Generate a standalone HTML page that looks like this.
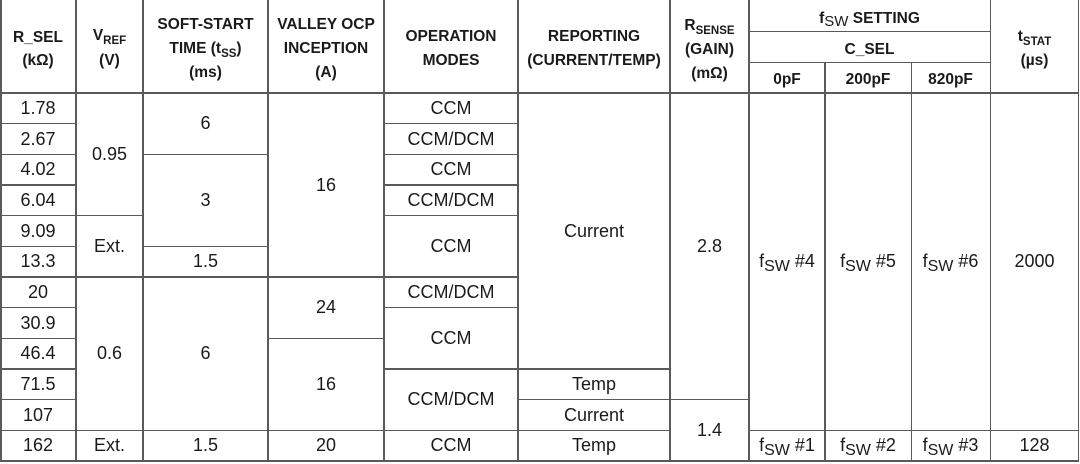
<!DOCTYPE html>
<html>
<head>
<meta charset="utf-8">
<style>
html,body{margin:0;padding:0;background:#fff;}
body{width:1080px;height:464px;position:relative;overflow:hidden;font-family:"Liberation Sans",Arial,sans-serif;color:#1a1a1a;}
.l{position:absolute;background:#5a5a5a;}
.t{position:absolute;display:flex;align-items:center;justify-content:center;text-align:center;font-size:18px;white-space:nowrap;}
.h{position:absolute;text-align:center;font-weight:bold;font-size:15.5px;white-space:nowrap;height:24px;line-height:24px;}
.sb{font-size:11.5px;position:relative;top:4px;}
.sw{font-size:16px;position:relative;top:4px;}
.swh{font-size:15px;font-weight:normal;position:relative;top:3px;}
</style>
</head>
<body>
<!-- vertical lines -->
<div class="l" style="left:0;top:0;width:1.6px;height:462px"></div>
<div class="l" style="left:75.2px;top:0;width:1.6px;height:462px"></div>
<div class="l" style="left:142.2px;top:0;width:1.6px;height:462px"></div>
<div class="l" style="left:267.2px;top:0;width:1.6px;height:462px"></div>
<div class="l" style="left:383.2px;top:0;width:1.6px;height:462px"></div>
<div class="l" style="left:517.2px;top:0;width:1.6px;height:462px"></div>
<div class="l" style="left:669.4px;top:0;width:1.6px;height:462px"></div>
<div class="l" style="left:748.2px;top:0;width:1.6px;height:462px"></div>
<div class="l" style="left:824.2px;top:62px;width:1.6px;height:400px"></div>
<div class="l" style="left:910.6px;top:62px;width:1.6px;height:400px"></div>
<div class="l" style="left:989.8px;top:0;width:1.6px;height:462px"></div>
<div class="l" style="left:1077.8px;top:0;width:1.6px;height:462px"></div>

<!-- horizontal lines -->
<div class="l" style="left:0;top:92.2px;width:1079px;height:1.6px"></div>
<div class="l" style="left:749px;top:30.9px;width:241px;height:1.6px"></div>
<div class="l" style="left:749px;top:61.9px;width:241px;height:1.6px"></div>
<div class="l" style="left:0;top:460.2px;width:1079px;height:1.6px"></div>

<!-- col0 -->
<div class="l" style="left:0;top:122.9px;width:76px;height:1.6px"></div>
<div class="l" style="left:0;top:153.5px;width:76px;height:1.6px"></div>
<div class="l" style="left:0;top:184.2px;width:76px;height:1.6px"></div>
<div class="l" style="left:0;top:214.9px;width:76px;height:1.6px"></div>
<div class="l" style="left:0;top:245.5px;width:76px;height:1.6px"></div>
<div class="l" style="left:0;top:276.2px;width:76px;height:1.6px"></div>
<div class="l" style="left:0;top:306.9px;width:76px;height:1.6px"></div>
<div class="l" style="left:0;top:337.5px;width:76px;height:1.6px"></div>
<div class="l" style="left:0;top:368.2px;width:76px;height:1.6px"></div>
<div class="l" style="left:0;top:398.9px;width:76px;height:1.6px"></div>
<div class="l" style="left:0;top:429.5px;width:76px;height:1.6px"></div>
<!-- col1 -->
<div class="l" style="left:76px;top:214.9px;width:67px;height:1.6px"></div>
<div class="l" style="left:76px;top:276.2px;width:67px;height:1.6px"></div>
<div class="l" style="left:76px;top:429.5px;width:67px;height:1.6px"></div>
<!-- col2 -->
<div class="l" style="left:143px;top:153.5px;width:125px;height:1.6px"></div>
<div class="l" style="left:143px;top:245.5px;width:125px;height:1.6px"></div>
<div class="l" style="left:143px;top:276.2px;width:125px;height:1.6px"></div>
<div class="l" style="left:143px;top:429.5px;width:125px;height:1.6px"></div>
<!-- col3 -->
<div class="l" style="left:268px;top:276.2px;width:116px;height:1.6px"></div>
<div class="l" style="left:268px;top:337.5px;width:116px;height:1.6px"></div>
<div class="l" style="left:268px;top:429.5px;width:116px;height:1.6px"></div>
<!-- col4 -->
<div class="l" style="left:384px;top:122.9px;width:134px;height:1.6px"></div>
<div class="l" style="left:384px;top:153.5px;width:134px;height:1.6px"></div>
<div class="l" style="left:384px;top:184.2px;width:134px;height:1.6px"></div>
<div class="l" style="left:384px;top:214.9px;width:134px;height:1.6px"></div>
<div class="l" style="left:384px;top:276.2px;width:134px;height:1.6px"></div>
<div class="l" style="left:384px;top:306.9px;width:134px;height:1.6px"></div>
<div class="l" style="left:384px;top:368.2px;width:134px;height:1.6px"></div>
<div class="l" style="left:384px;top:429.5px;width:134px;height:1.6px"></div>
<!-- col5 -->
<div class="l" style="left:518px;top:368.2px;width:152px;height:1.6px"></div>
<div class="l" style="left:518px;top:398.9px;width:152px;height:1.6px"></div>
<div class="l" style="left:518px;top:429.5px;width:152px;height:1.6px"></div>
<!-- col6 -->
<div class="l" style="left:670px;top:398.9px;width:79px;height:1.6px"></div>
<!-- col7-10 -->
<div class="l" style="left:749px;top:429.5px;width:330px;height:1.6px"></div>

<!-- header text -->
<div class="h" style="left:0;width:76px;top:25.5px">R_SEL</div>
<div class="h" style="left:0;width:76px;top:48.5px">(kΩ)</div>

<div class="h" style="left:76px;width:67px;top:23.5px">V<span class="sb">REF</span></div>
<div class="h" style="left:76px;width:67px;top:48.5px">(V)</div>

<div class="h" style="left:143px;width:125px;top:13px">SOFT-START</div>
<div class="h" style="left:143px;width:125px;top:37px">TIME (t<span class="sb">SS</span>)</div>
<div class="h" style="left:143px;width:125px;top:61px">(ms)</div>

<div class="h" style="left:268px;width:116px;top:13px">VALLEY OCP</div>
<div class="h" style="left:268px;width:116px;top:37px">INCEPTION</div>
<div class="h" style="left:268px;width:116px;top:61px">(A)</div>

<div class="h" style="left:384px;width:134px;top:25px">OPERATION</div>
<div class="h" style="left:384px;width:134px;top:49px">MODES</div>

<div class="h" style="left:518px;width:152px;top:25px">REPORTING</div>
<div class="h" style="left:518px;width:152px;top:49px">(CURRENT/TEMP)</div>

<div class="h" style="left:670px;width:79px;top:14px">R<span class="sb">SENSE</span></div>
<div class="h" style="left:670px;width:79px;top:38px">(GAIN)</div>
<div class="h" style="left:670px;width:79px;top:62px">(mΩ)</div>

<div class="h" style="left:749px;width:241px;top:7px">f<span class="swh">SW</span> SETTING</div>
<div class="h" style="left:749px;width:241px;top:37.5px">C_SEL</div>
<div class="h" style="left:749px;width:76px;top:67.5px">0pF</div>
<div class="h" style="left:825px;width:86px;top:67.5px">200pF</div>
<div class="h" style="left:911px;width:79px;top:67.5px">820pF</div>

<div class="h" style="left:990px;width:89px;top:24.5px">t<span class="sb">STAT</span></div>
<div class="h" style="left:990px;width:89px;top:48.5px">(µs)</div>

<!-- col0 data -->
<div class="t" style="left:0;width:76px;top:93px;height:30.7px">1.78</div>
<div class="t" style="left:0;width:76px;top:123.7px;height:30.7px">2.67</div>
<div class="t" style="left:0;width:76px;top:154.3px;height:30.7px">4.02</div>
<div class="t" style="left:0;width:76px;top:185px;height:30.7px">6.04</div>
<div class="t" style="left:0;width:76px;top:215.7px;height:30.7px">9.09</div>
<div class="t" style="left:0;width:76px;top:246.3px;height:30.7px">13.3</div>
<div class="t" style="left:0;width:76px;top:277px;height:30.7px">20</div>
<div class="t" style="left:0;width:76px;top:307.7px;height:30.7px">30.9</div>
<div class="t" style="left:0;width:76px;top:338.3px;height:30.7px">46.4</div>
<div class="t" style="left:0;width:76px;top:369px;height:30.7px">71.5</div>
<div class="t" style="left:0;width:76px;top:399.7px;height:30.7px">107</div>
<div class="t" style="left:0;width:76px;top:430.3px;height:30.7px">162</div>

<!-- col1 -->
<div class="t" style="left:76px;width:67px;top:93px;height:122.7px">0.95</div>
<div class="t" style="left:76px;width:67px;top:215.7px;height:61.3px">Ext.</div>
<div class="t" style="left:76px;width:67px;top:277px;height:153.3px">0.6</div>
<div class="t" style="left:76px;width:67px;top:430.3px;height:30.7px">Ext.</div>

<!-- col2 -->
<div class="t" style="left:143px;width:125px;top:93px;height:61.3px">6</div>
<div class="t" style="left:143px;width:125px;top:154.3px;height:92px">3</div>
<div class="t" style="left:143px;width:125px;top:246.3px;height:30.7px">1.5</div>
<div class="t" style="left:143px;width:125px;top:277px;height:153.3px">6</div>
<div class="t" style="left:143px;width:125px;top:430.3px;height:30.7px">1.5</div>

<!-- col3 -->
<div class="t" style="left:268px;width:116px;top:93px;height:184px">16</div>
<div class="t" style="left:268px;width:116px;top:277px;height:61.3px">24</div>
<div class="t" style="left:268px;width:116px;top:338.3px;height:92px">16</div>
<div class="t" style="left:268px;width:116px;top:430.3px;height:30.7px">20</div>

<!-- col4 -->
<div class="t" style="left:384px;width:134px;top:93px;height:30.7px">CCM</div>
<div class="t" style="left:384px;width:134px;top:123.7px;height:30.7px">CCM/DCM</div>
<div class="t" style="left:384px;width:134px;top:154.3px;height:30.7px">CCM</div>
<div class="t" style="left:384px;width:134px;top:185px;height:30.7px">CCM/DCM</div>
<div class="t" style="left:384px;width:134px;top:215.7px;height:61.3px">CCM</div>
<div class="t" style="left:384px;width:134px;top:277px;height:30.7px">CCM/DCM</div>
<div class="t" style="left:384px;width:134px;top:307.7px;height:61.3px">CCM</div>
<div class="t" style="left:384px;width:134px;top:369px;height:61.3px">CCM/DCM</div>
<div class="t" style="left:384px;width:134px;top:430.3px;height:30.7px">CCM</div>

<!-- col5 -->
<div class="t" style="left:518px;width:152px;top:93px;height:276px">Current</div>
<div class="t" style="left:518px;width:152px;top:369px;height:30.7px">Temp</div>
<div class="t" style="left:518px;width:152px;top:399.7px;height:30.7px">Current</div>
<div class="t" style="left:518px;width:152px;top:430.3px;height:30.7px">Temp</div>

<!-- col6 -->
<div class="t" style="left:670px;width:79px;top:93px;height:306.7px">2.8</div>
<div class="t" style="left:670px;width:79px;top:399.7px;height:61.3px">1.4</div>

<!-- fsw cols -->
<div class="t" style="left:749px;width:76px;top:93px;height:337.3px"><span>f<span class="sw">SW</span> #4</span></div>
<div class="t" style="left:825px;width:86px;top:93px;height:337.3px"><span>f<span class="sw">SW</span> #5</span></div>
<div class="t" style="left:911px;width:79px;top:93px;height:337.3px"><span>f<span class="sw">SW</span> #6</span></div>
<div class="t" style="left:990px;width:89px;top:93px;height:337.3px">2000</div>

<div class="t" style="left:749px;width:76px;top:430.3px;height:30.7px"><span>f<span class="sw">SW</span> #1</span></div>
<div class="t" style="left:825px;width:86px;top:430.3px;height:30.7px"><span>f<span class="sw">SW</span> #2</span></div>
<div class="t" style="left:911px;width:79px;top:430.3px;height:30.7px"><span>f<span class="sw">SW</span> #3</span></div>
<div class="t" style="left:990px;width:89px;top:430.3px;height:30.7px">128</div>
</body>
</html>
